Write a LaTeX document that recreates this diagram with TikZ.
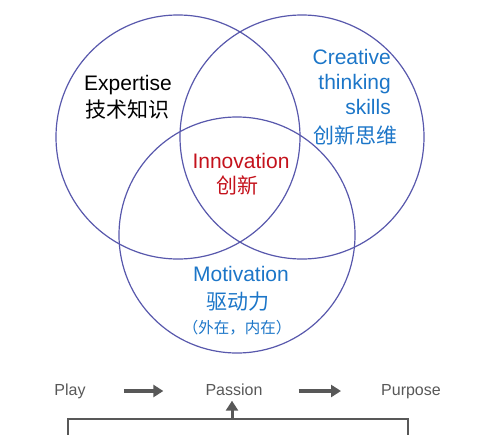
\documentclass[tikz,border=0pt]{standalone}
\usepackage{fontspec}
\setmainfont{Liberation Sans}
\newfontfamily\cjk{Noto Sans CJK SC}
\usetikzlibrary{arrows.meta,positioning}
\definecolor{ringblue}{RGB}{88,88,172}
\definecolor{txtblue}{RGB}{28,118,200}
\definecolor{txtred}{RGB}{196,18,28}
\definecolor{flowgray}{RGB}{88,88,88}

\begin{document}
\begin{tikzpicture}[
        x=1pt,
        y=-1pt,
        ring/.style={draw=ringblue, line width=1.2pt},
        word/.style={inner sep=0pt, text height=15pt, text depth=4pt, font=\fontsize{21}{24}\selectfont},
        hanzi/.style={word, font=\fontsize{21}{24}\selectfont\cjk},
        small/.style={inner sep=0pt, text height=12pt, text depth=3pt, font=\fontsize{16}{19}\selectfont, text=flowgray},
        flow/.style={draw=flowgray, line width=4pt, -{Triangle[length=10pt, width=12pt]}},
        joint/.style={draw=flowgray, line width=1.8pt}
    ]
        \useasboundingbox (0,0) rectangle (482,434);

        % the three rings
        \draw[ring] (178,137) circle[radius=122];
        \draw[ring] (302,137) circle[radius=122];
        \draw[ring] (237,235) circle[radius=118];

        % ring texts
        \node[word] (expEn) at (128,85) {Expertise};
        \node[hanzi] (expCn) at (127,112) {技术知识};

        \node[word, text=txtblue, anchor=east] (creA) at (391,59) {Creative};
        \node[word, text=txtblue, anchor=east] (creB) at (391,84) {thinking};
        \node[word, text=txtblue, anchor=east] (creC) at (391,109) {skills};
        \node[hanzi, text=txtblue] (creCn) at (355,138) {创新思维};

        \node[word, text=txtred] (innEn) at (241,163) {Innovation};
        \node[hanzi, text=txtred] (innCn) at (237,188) {创新};

        \node[word, text=txtblue] (motEn) at (241,276) {Motivation};
        \node[hanzi, text=txtblue] (motCn) at (238,304) {驱动力};
        \node[inner sep=0pt, text=txtblue, font=\fontsize{15.5}{18}\selectfont\cjk] (motSub) at (237,328) {（外在，内在）};

        % play -> passion -> purpose
        \node[small] (play) at (70,391) {Play};
        \node[small] (passion) at (234,391) {Passion};
        \node[small] (purpose) at (411,391) {Purpose};
        \draw[flow, shorten <=38pt, shorten >=42pt] (play.east) -- (passion.west);
        \draw[flow, shorten <=36pt, shorten >=40pt] (passion.east) -- (purpose.west);

        % bracket feeding passion
        \coordinate (jl) at (68,419);
        \coordinate (jr) at (408,419);
        \coordinate (jm) at (232,419);
        \coordinate (bl) at (68,436);
        \coordinate (br) at (408,436);
        \draw[joint] (bl) -- (jl) -- (jr) -- (br);
        \draw[flow, line width=3pt, shorten >=2pt] (jm) -- (jm |- passion.south);
    \end{tikzpicture}
\end{document}
